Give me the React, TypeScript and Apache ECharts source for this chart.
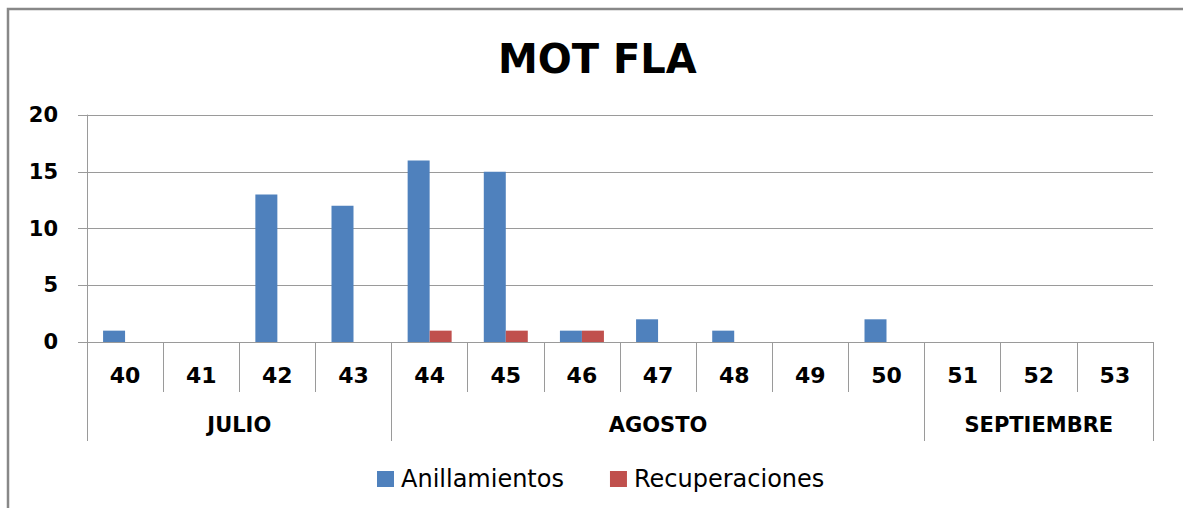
import React, { useEffect, useRef } from "react";
import * as echarts from "echarts";

const titleText = "MOT FLA";
const weeks = ["40", "41", "42", "43", "44", "45", "46", "47", "48", "49", "50", "51", "52", "53"];
const anillamientos = [1, 0, 13, 12, 16, 15, 1, 2, 1, 0, 2, 0, 0, 0];
const recuperaciones = [0, 0, 0, 0, 1, 1, 1, 0, 0, 0, 0, 0, 0, 0];
const months = ["JULIO", "AGOSTO", "SEPTIEMBRE"];
const monthSpans = [4, 7, 3];
const yTicks = [0, 5, 10, 15, 20];

const FONT = "DejaVu Sans";
const GRAY = "#9a9a9a";

export default function App() {
  const ref = useRef<HTMLDivElement>(null);

  useEffect(() => {
    if (!ref.current) return;
    const chart = echarts.init(ref.current, undefined, { renderer: "svg" });

    // Second-level axis on half-band positions (boundaryGap false)
    const halfCount = weeks.length * 2 + 1;
    const monthData: string[] = new Array(halfCount).fill("");
    const boundaries = new Set<number>();
    const centers = new Set<number>();
    let acc = 0;
    boundaries.add(0);
    months.forEach((m, i) => {
      const start = acc * 2;
      const end = (acc + monthSpans[i]) * 2;
      const c = (start + end) / 2;
      monthData[c] = m;
      centers.add(c);
      boundaries.add(end);
      acc += monthSpans[i];
    });

    chart.setOption({
      animation: false,
      title: {
        text: titleText,
        left: 493,
        top: 34,
        textStyle: { fontFamily: FONT, fontWeight: "bold", fontSize: 40, color: "#000" },
      },
      legend: {
        data: ["Anillamientos", "Recuperaciones"],
        left: 372,
        top: 462,
        itemWidth: 17,
        itemHeight: 16,
        itemGap: 46,
        icon: "rect",
        textStyle: { fontFamily: FONT, fontSize: 24, color: "#000", padding: [0, 0, 0, 2] },
      },
      grid: { left: 87, right: 30, top: 115, bottom: 166, containLabel: false },
      xAxis: [
        {
          type: "category",
          data: weeks,
          position: "bottom",
          axisLine: { show: true, lineStyle: { color: GRAY, width: 1 } },
          axisTick: { show: true, interval: 0, length: 50, alignWithLabel: false, lineStyle: { color: GRAY } },
          axisLabel: {
            interval: 0,
            margin: 22,
            fontFamily: FONT,
            fontWeight: "bold",
            fontSize: 22,
            color: "#000",
          },
          splitLine: { show: false },
        },
        {
          type: "category",
          data: monthData,
          boundaryGap: false,
          position: "bottom",
          offset: 50,
          axisLine: { show: false },
          axisTick: {
            show: true,
            interval: (i: number) => boundaries.has(i),
            length: 49,
            lineStyle: { color: GRAY },
          },
          axisLabel: {
            interval: (i: number) => centers.has(i),
            margin: 22,
            fontFamily: FONT,
            fontWeight: "bold",
            fontSize: 21,
            color: "#000",
          },
          splitLine: { show: false },
        },
      ],
      yAxis: {
        type: "value",
        min: yTicks[0],
        max: yTicks[yTicks.length - 1],
        interval: yTicks[1] - yTicks[0],
        axisLine: { show: true, lineStyle: { color: GRAY } },
        axisTick: { show: true, length: 9, lineStyle: { color: GRAY } },
        axisLabel: { margin: 29, fontFamily: FONT, fontWeight: "bold", fontSize: 21, color: "#000" },
        splitLine: { show: true, lineStyle: { color: GRAY, width: 1 } },
      },
      series: [
        {
          name: "Anillamientos",
          type: "bar",
          data: anillamientos,
          barWidth: 22,
          barGap: "0%",
          itemStyle: { color: "#4F81BD" },
        },
        {
          name: "Recuperaciones",
          type: "bar",
          data: recuperaciones,
          barWidth: 22,
          barGap: "0%",
          itemStyle: { color: "#C0504D" },
        },
      ],
      graphic: [
        {
          type: "rect",
          shape: { x: 8, y: 9, width: 1200, height: 520 },
          style: { fill: "none", stroke: "#888888", lineWidth: 2.5 },
          silent: true,
        },
      ],
    });

    return () => chart.dispose();
  }, []);

  return (
    <div
      ref={ref}
      style={{ position: "fixed", left: 0, top: 0, width: 1183, height: 508, background: "#fff" }}
    />
  );
}
